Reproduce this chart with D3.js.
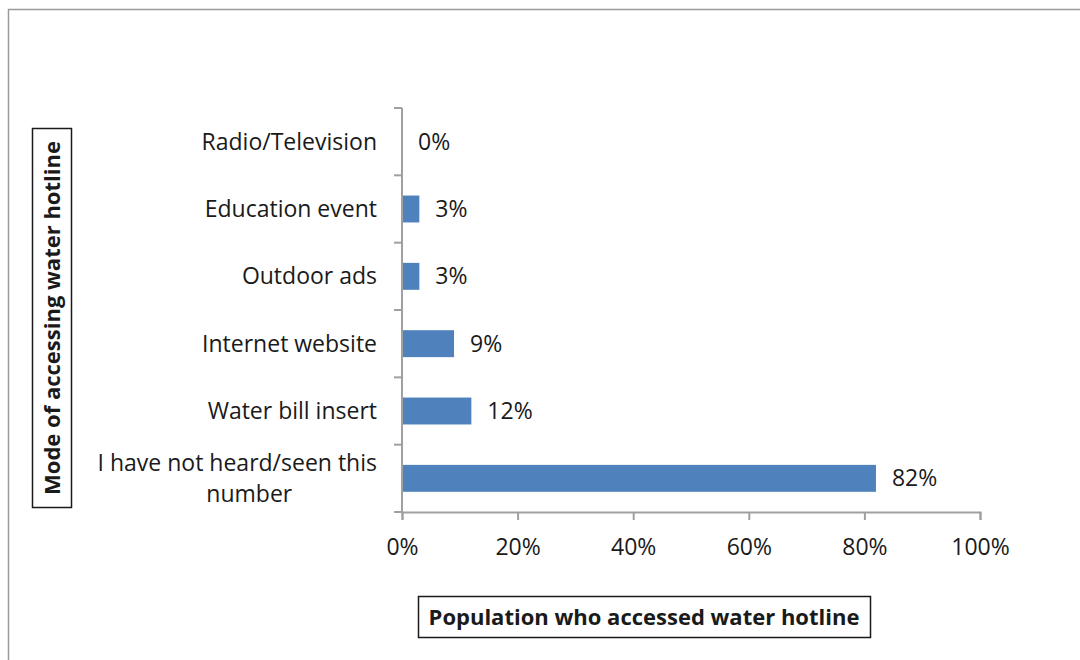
<!DOCTYPE html>
<html>
<head>
<meta charset="utf-8">
<script src="https://cdn.jsdelivr.net/npm/d3@7"></script>
<style>
  body { margin: 0; background: #fff; }
  svg { display: block; }
  text { font-family: "Open Sans", "Noto Sans", sans-serif; fill: #1a1a1a; }
</style>
</head>
<body>
<svg></svg>
<script>
// Datos
var categories = ['Radio/Television', 'Education event', 'Outdoor ads',
    'Internet website', 'Water bill insert', 'I have not heard/seen this\nnumber'];
var values = [0, 3, 3, 9, 12, 82];
var xTicks = [0, 20, 40, 60, 80, 100];

var w = 1080,
    h = 660,
    labelSize = '23px',
    titleSize = '22px';

var svg = d3.select('svg')
    .attr('width', w)
    .attr('height', h);

// marco exterior
svg.append('rect')
    .attr('x', 8.5).attr('y', 9.5)
    .attr('width', w + 20).attr('height', h + 20)
    .attr('fill', 'none')
    .attr('stroke', '#9a9a9a')
    .attr('stroke-width', 1.5);

var xScale = d3.scaleLinear()
    .domain([0, 100])
    .range([402, 980]);

var yScale = d3.scaleBand()
    .domain(categories)
    .range([108, 512])
    .paddingInner(0.6)
    .paddingOuter(0.3);

var axisColor = '#a0a0a0';

// barras
svg.selectAll('rect.bar')
    .data(values)
    .enter()
    .append('rect')
    .attr('class', 'bar')
    .attr('x', xScale(0))
    .attr('y', function(d, i) { return yScale(categories[i]); })
    .attr('width', function(d) { return xScale(d) - xScale(0); })
    .attr('height', yScale.bandwidth())
    .attr('fill', '#4f81bd');

// eje y
var step = yScale.step();
var yg = svg.append('g');
yg.append('line')
    .attr('x1', xScale(0)).attr('x2', xScale(0))
    .attr('y1', 108).attr('y2', 512)
    .attr('stroke', axisColor).attr('stroke-width', 2);
yg.selectAll('line.tk')
    .data(d3.range(categories.length + 1))
    .enter()
    .append('line')
    .attr('class', 'tk')
    .attr('x1', xScale(0) - 8).attr('x2', xScale(0))
    .attr('y1', function(i) { return 108 + i * step; })
    .attr('y2', function(i) { return 108 + i * step; })
    .attr('stroke', axisColor).attr('stroke-width', 2);

// eje x
var xg = svg.append('g')
    .attr('transform', 'translate(0,512)')
    .call(d3.axisBottom(xScale)
        .tickValues(xTicks)
        .tickSize(8)
        .tickFormat(function(d) { return d + '%'; }));
xg.select('.domain').attr('stroke', axisColor).attr('stroke-width', 2);
xg.selectAll('.tick line').attr('stroke', axisColor).attr('stroke-width', 2);
xg.selectAll('.tick text')
    .attr('y', 36)
    .attr('dy', '0.32em')
    .style('font-size', labelSize)
    .style('font-family', '"Open Sans", sans-serif')
    .attr('fill', '#1a1a1a');

// etiquetas de categoria
var labelX = 377;
categories.forEach(function(c) {
    var lines = c.split('\n');
    var cy = yScale(c) + yScale.bandwidth() / 2;
    var t = svg.append('text')
        .style('font-size', labelSize);
    if (lines.length === 1) {
        t.attr('x', labelX).attr('y', cy)
            .attr('dy', '0.35em')
            .attr('text-anchor', 'end')
            .text(c);
    } else {
        var lh = 31;
        lines.forEach(function(l, k) {
            t.append('tspan')
                .attr('y', cy + (k - (lines.length - 1) / 2) * lh)
                .attr('dy', '0.35em')
                .text(l);
        });
        // centrar las lineas sobre la mas ancha
        var maxW = 0;
        t.selectAll('tspan').each(function() {
            maxW = Math.max(maxW, this.getComputedTextLength());
        });
        t.attr('text-anchor', 'middle');
        t.selectAll('tspan').attr('x', function() {
            var lw = this.getComputedTextLength();
            return lw >= maxW ? labelX - maxW / 2 : labelX - maxW / 2 + 12;
        });
    }
});

// etiquetas de valor
svg.selectAll('text.val')
    .data(values)
    .enter()
    .append('text')
    .attr('class', 'val')
    .attr('x', function(d) { return xScale(d) + 16; })
    .attr('y', function(d, i) { return yScale(categories[i]) + yScale.bandwidth() / 2; })
    .attr('dy', '0.35em')
    .style('font-size', labelSize)
    .text(function(d) { return d + '%'; });

// titulo eje x
svg.append('rect')
    .attr('x', 418.5).attr('y', 596.5)
    .attr('width', 452).attr('height', 41)
    .attr('fill', 'none').attr('stroke', '#1a1a1a').attr('stroke-width', 1.5);
svg.append('text')
    .attr('x', 644).attr('y', 617)
    .attr('dy', '0.35em')
    .attr('text-anchor', 'middle')
    .style('font-size', titleSize)
    .style('font-weight', 'bold')
    .text('Population who accessed water hotline');

// titulo eje y
svg.append('rect')
    .attr('x', 32.5).attr('y', 128.5)
    .attr('width', 39).attr('height', 379)
    .attr('fill', 'none').attr('stroke', '#1a1a1a').attr('stroke-width', 1.5);
svg.append('text')
    .attr('transform', 'translate(52,318) rotate(-90)')
    .attr('dy', '0.35em')
    .attr('text-anchor', 'middle')
    .style('font-size', titleSize)
    .style('font-weight', 'bold')
    .text('Mode of accessing water hotline');
</script>
</body>
</html>
